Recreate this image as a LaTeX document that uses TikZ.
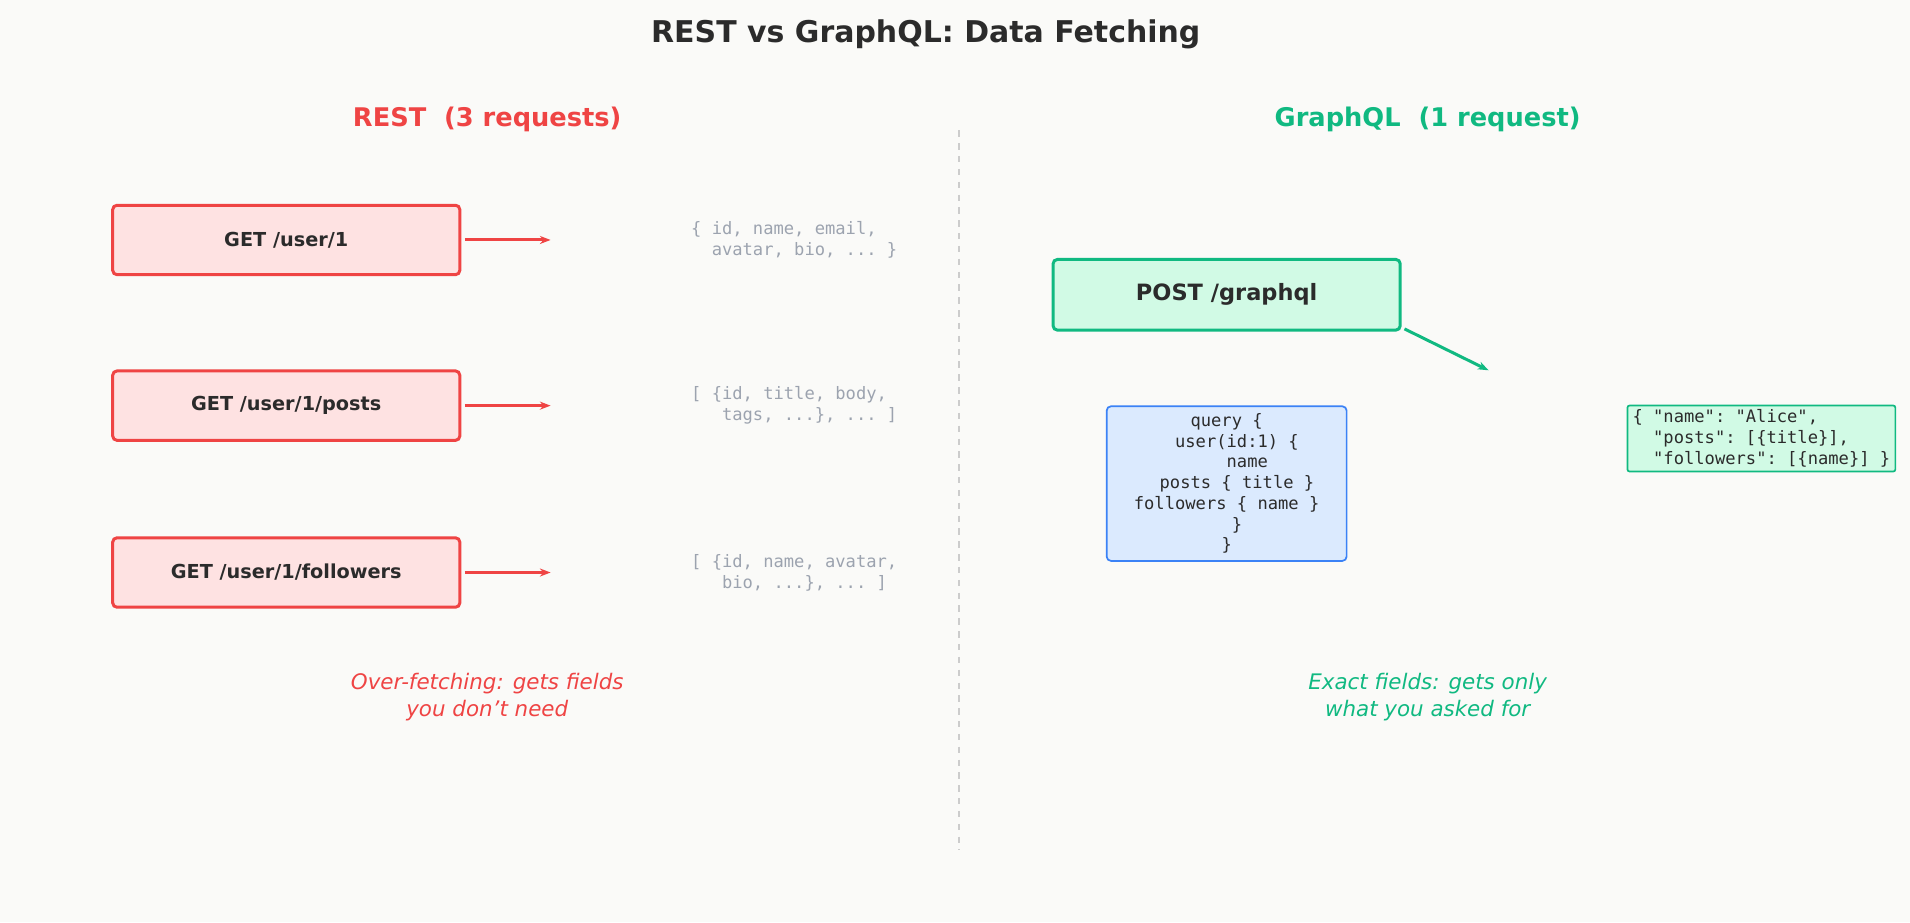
\documentclass[tikz,border=0pt]{standalone}
\usepackage{fontspec}
\setmainfont{DejaVu Sans}
\setmonofont{DejaVu Sans Mono}
\usetikzlibrary{arrows.meta, positioning}
\definecolor{restred}{HTML}{EF4444}
\definecolor{restfill}{HTML}{FEE2E2}
\definecolor{gqlgreen}{HTML}{10B981}
\definecolor{gqlfill}{HTML}{D1FAE5}
\definecolor{qblue}{HTML}{3B82F6}
\definecolor{qfill}{HTML}{DBEAFE}
\definecolor{ink}{HTML}{2B2B2B}
\definecolor{muted}{HTML}{9CA3AF}
\definecolor{bg}{HTML}{FAFAF8}

\begin{document}
\begin{tikzpicture}[x=0.02cm, y=-0.02cm,
   req/.style = {draw=restred, fill=restfill, line width=1.4pt, rounded corners=2pt,
      minimum width=5.7cm, minimum height=1.14cm, text=ink, font=\fontsize{9}{11}\selectfont\bfseries},
   resp/.style = {text=muted, align=left, font=\fontsize{8}{9.7}\selectfont\ttfamily},
   note/.style = {align=center, font=\fontsize{10}{12.5}\selectfont\itshape},
   head/.style = {font=\fontsize{12}{14}\selectfont\bfseries},
   fetch/.style = {-{Stealth[length=5pt]}, line width=1.4pt}]
   \fill[bg] (0,0) rectangle (1568,757);
   \node[text=ink, font=\fontsize{14}{16}\selectfont\bfseries] (title) at (760,28) {REST vs GraphQL: Data Fetching};
   \node[head, text=restred] (resthead) at (400,98) {REST\ \ (3 requests)};
   \node[head, text=gqlgreen] (gqlhead) at (1172,98) {GraphQL\ \ (1 request)};

   \coordinate (divtop) at (787,107);
   \coordinate (divbot) at (787,698);
   \draw[black!20, dashed, line width=0.8pt] (divtop) -- (divbot);

   % REST side
   \node[req] (user)      at (235,197) {GET /user/1};
   \node[req] (posts)     at (235,333) {GET /user/1/posts};
   \node[req] (followers) at (235,470) {GET /user/1/followers};

   \node[resp] (userdata)      at (652,197) {\{ id, name, email,\\\ \ avatar, bio, ... \}};
   \node[resp] (postsdata)     at (652,333) {[ \{id, title, body,\\\ \ \ tags, ...\}, ... ]};
   \node[resp] (followersdata) at (652,470) {[ \{id, name, avatar,\\\ \ \ bio, ...\}, ... ]};

   \coordinate (userend) at (452,197);
   \coordinate (postsend) at (452,333);
   \coordinate (followersend) at (452,470);
   \draw[fetch, restred] (user.east) ++(3,0) -- (userend);
   \draw[fetch, restred] (posts.east) ++(3,0) -- (postsend);
   \draw[fetch, restred] (followers.east) ++(3,0) -- (followersend);

   \node[note, text=restred] (overfetch) at (400,572) {Over-fetching: gets fields\\you don't need};

   % GraphQL side
   \node[draw=gqlgreen, fill=gqlfill, line width=1.4pt, rounded corners=2pt,
      minimum width=5.7cm, minimum height=1.16cm, text=ink,
      font=\fontsize{10.5}{12}\selectfont\bfseries] (post) at (1007,242) {POST /graphql};
   \coordinate (postend) at (1222,304);
   \draw[fetch, gqlgreen] (1153,270) -- (postend);

   \node[draw=qblue, fill=qfill, line width=0.8pt, rounded corners=2pt,
      minimum width=3.94cm, minimum height=2.48cm, text=ink, align=center,
      font=\fontsize{8}{9.7}\selectfont\ttfamily] (query) at (1007,397)
      {query \{\\\ \ user(id:1) \{\\\ \ \ \ name\\\ \ posts \{ title \}\\followers \{ name \}\\\ \ \}\\\}};

   \node[draw=gqlgreen, fill=gqlfill, line width=0.8pt, rounded corners=1pt,
      minimum width=4.4cm, minimum height=1.06cm, inner sep=2pt, text=ink, align=left,
      font=\fontsize{8}{9.7}\selectfont\ttfamily] (answer) at (1446,360)
      {\{ "name": "Alice",\\\ \ "posts": [\{title\}],\\\ \ "followers": [\{name\}] \}};

   \node[note, text=gqlgreen] (exact) at (1172,572) {Exact fields: gets only\\what you asked for};
\end{tikzpicture}
\end{document}
